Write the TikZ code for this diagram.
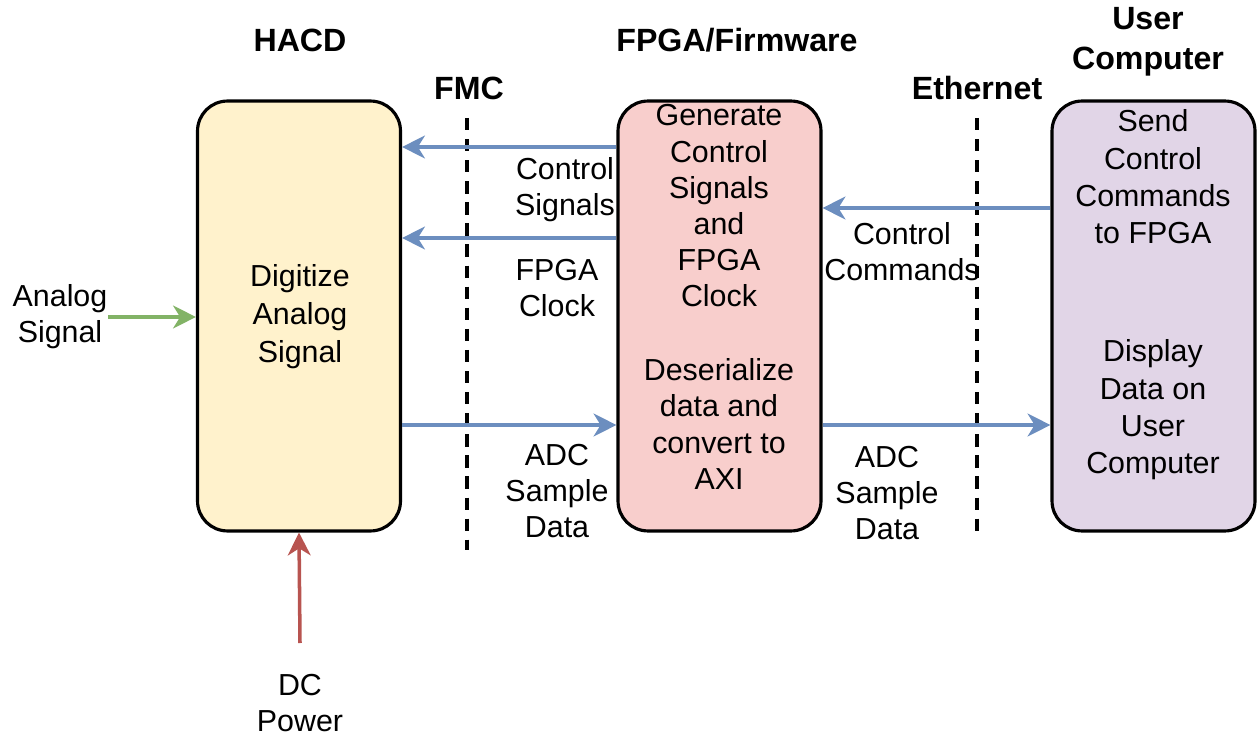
\documentclass[tikz,border=0pt]{standalone}
\usepackage{fontspec}
\setmainfont{Liberation Sans}
\usetikzlibrary{arrows.meta}
\definecolor{hacdfill}{HTML}{FFF2CC}
\definecolor{fpgafill}{HTML}{F8CECC}
\definecolor{userfill}{HTML}{E1D5E7}
\definecolor{linkblue}{HTML}{6C8EBF}
\definecolor{siggreen}{HTML}{82B366}
\definecolor{powred}{HTML}{B85450}
\tikzset{
  block/.style={draw=black, line width=1.8pt, rounded corners=0.6cm,
    minimum width=4.06cm, minimum height=8.6cm, inner sep=0pt},
  body/.style={align=center, inner sep=0pt, font=\fontsize{17.3}{20.6}\selectfont},
  title/.style={align=center, inner sep=0pt, font=\fontsize{18.3}{22.7}\selectfont\bfseries},
  tip/.style={-{Stealth[length=13pt, width=13pt, inset=4pt]}},
  bluelink/.style={tip, draw=linkblue, fill=linkblue, line width=2pt},
  greenlink/.style={tip, draw=siggreen, fill=siggreen, line width=2pt},
  redlink/.style={tip, draw=powred, fill=powred, line width=2pt},
  boundary/.style={draw=black, line width=1.8pt, dash pattern=on 7pt off 5pt}
}
\begin{document}
\begin{tikzpicture}[x=0.02cm, y=-0.02cm]
\useasboundingbox (0,0) rectangle (1257,736);

% blocks
\node[block, fill=hacdfill] (hacd) at (299,316) {};
\node[block, fill=fpgafill] (fpga) at (719.5,316) {};
\node[block, fill=userfill] (user) at (1153.5,316) {};

% block texts
\node[body, font=\fontsize{17.3}{21.6}\selectfont] (hacdtxt) at (300,317) {Digitize\\Analog\\Signal};
\node[body] (fpgatop) at (719,206) {Generate\\Control\\Signals\\and\\FPGA\\Clock};
\node[body] (fpgabot) at (719,424) {Deserialize\\data and\\convert to\\AXI};
\node[body, font=\fontsize{17.3}{21.3}\selectfont] (usertop) at (1153,177) {Send\\Control\\Commands\\to FPGA};
\node[body, font=\fontsize{17.3}{21.3}\selectfont] (userbot) at (1153,410) {Display\\Data on\\User\\Computer};

% titles
\node[title] (thacd) at (300,40) {HACD};
\node[title] (tfpga) at (737,40) {FPGA/Firmware};
\node[title] (tuser) at (1148,42) {User\\Computer};
\node[title] (tfmc) at (469,88) {FMC};
\node[title] (teth) at (977,88) {Ethernet};

% interface boundaries
\coordinate (fmctop) at (467,118);
\coordinate (fmcbot) at (467,550);
\coordinate (ethtop) at (977,118);
\coordinate (ethbot) at (977,537);
\draw[boundary] (fmctop) -- (fmcbot);
\draw[boundary] (ethtop) -- (ethbot);

% links between blocks
\draw[bluelink] (fpga.west |- 0,147) -- (hacd.east |- 0,147);
\draw[bluelink] (fpga.west |- 0,238) -- (hacd.east |- 0,238);
\draw[bluelink] (hacd.east |- 0,425) -- (fpga.west |- 0,425);
\draw[bluelink] (user.west |- 0,208) -- (fpga.east |- 0,208);
\draw[bluelink] (fpga.east |- 0,425) -- (user.west |- 0,425);

% link labels
\node[body] (lctrl) at (565,190) {Control\\Signals};
\node[body] (lclk) at (557,288) {FPGA\\Clock};
\node[body] (ladc1) at (557,491) {ADC\\Sample\\Data};
\node[body] (lcmd) at (902,252) {Control\\Commands};
\node[body] (ladc2) at (887,493) {ADC\\Sample\\Data};

% external inputs
\node[body] (analog) at (60,317) {Analog\\Signal};
\coordinate (analogend) at (108,317);
\draw[greenlink] (analogend) -- (hacd.west |- analogend);
\node[body] (dcpow) at (300,703) {DC\\Power};
\coordinate (dcend) at (300,643);
\draw[redlink] (dcend) -- (hacd.south);
\end{tikzpicture}
\end{document}
